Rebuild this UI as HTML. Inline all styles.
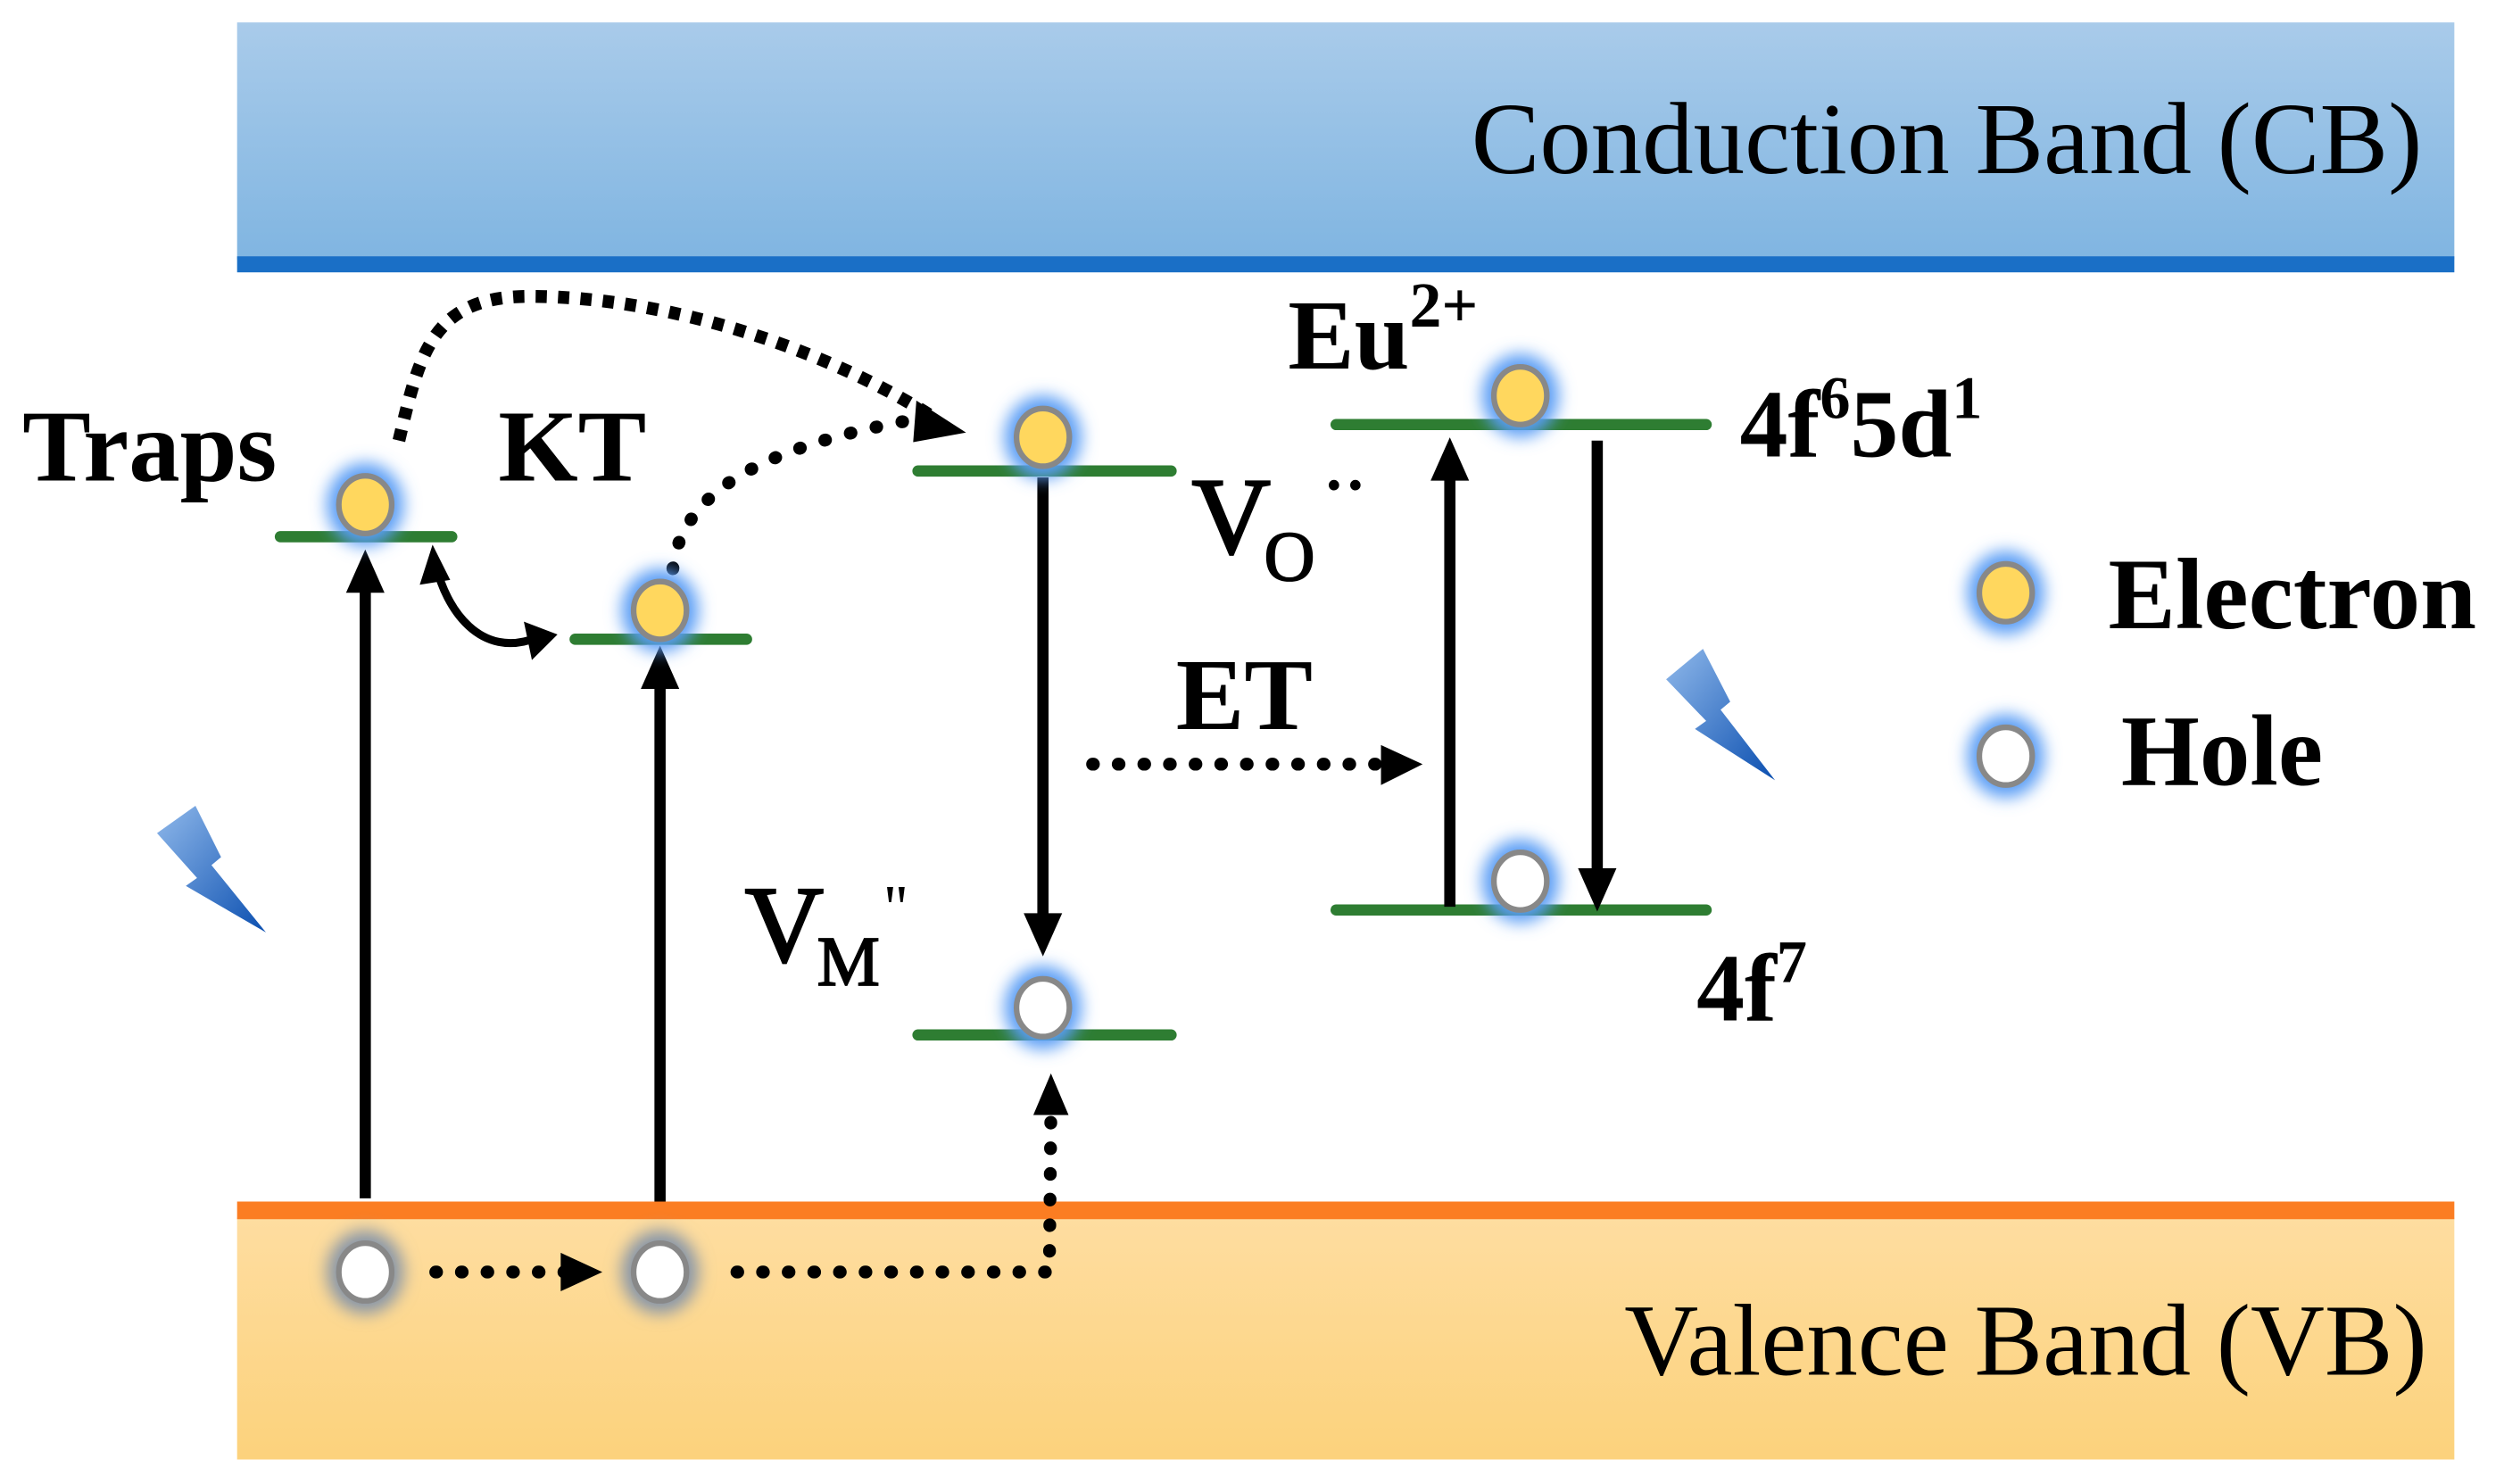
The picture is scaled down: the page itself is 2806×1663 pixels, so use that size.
<!DOCTYPE html>
<html><head><meta charset="utf-8"><style>
html,body{margin:0;padding:0;background:#fff;}
svg{display:block;}
text{font-family:"Liberation Serif",serif;}
.b{font-weight:bold;fill:#000;}
</style></head><body>
<svg width="2806" height="1663" viewBox="0 0 1563 926.3" preserveAspectRatio="none" xmlns="http://www.w3.org/2000/svg">
<defs>
<linearGradient id="cb" x1="0" y1="0" x2="0" y2="1"><stop offset="0" stop-color="#a9cbea"/><stop offset="1" stop-color="#80b5e1"/></linearGradient>
<linearGradient id="vb" x1="0" y1="0" x2="0" y2="1"><stop offset="0" stop-color="#fedda0"/><stop offset="1" stop-color="#fcd27c"/></linearGradient>
<linearGradient id="lt" x1="0" y1="0" x2="1" y2="1"><stop offset="0" stop-color="#8fb8ea"/><stop offset="1" stop-color="#0b4fb0"/></linearGradient>
<filter id="gl" x="-1" y="-1" width="3" height="3"><feGaussianBlur stdDeviation="5"/></filter>
<g id="el"><ellipse cx="0" cy="0" rx="24" ry="26" fill="#5a9df5" filter="url(#gl)"/><ellipse cx="0" cy="0" rx="16.5" ry="18" fill="#ffd75e" stroke="#888" stroke-width="3.5"/></g>
<g id="ho"><ellipse cx="0" cy="0" rx="24" ry="26" fill="#5a9df5" filter="url(#gl)"/><ellipse cx="0" cy="0" rx="16.5" ry="18" fill="#fff" stroke="#888" stroke-width="3.5"/></g>
<g id="hv"><ellipse cx="0" cy="0" rx="24" ry="26" fill="#8795a8" filter="url(#gl)"/><ellipse cx="0" cy="0" rx="16.5" ry="18" fill="#fff" stroke="#888" stroke-width="3.5"/></g>
</defs>
<rect x="148" y="14" width="1384" height="148" fill="url(#cb)"/>
<rect x="148" y="160" width="1384" height="10" fill="#1a6fc6"/>
<text x="1512" y="108" font-size="64" text-anchor="end" fill="#000">Conduction Band (CB)</text>
<rect x="148" y="760" width="1384" height="151" fill="url(#vb)"/>
<rect x="148" y="750" width="1384" height="11" fill="#fb7d22"/>
<text x="1515" y="858" font-size="64" text-anchor="end" fill="#000">Valence Band (VB)</text>

<g stroke="#2e7d32" stroke-width="7" stroke-linecap="round">
<line x1="175" y1="335" x2="282" y2="335"/>
<line x1="359" y1="399" x2="466" y2="399"/>
<line x1="573" y1="294" x2="731" y2="294"/>
<line x1="573" y1="646" x2="731" y2="646"/>
<line x1="834" y1="265" x2="1065" y2="265"/>
<line x1="834" y1="568" x2="1065" y2="568"/>
</g>

<g stroke="#000" stroke-width="7" fill="none">
<line x1="228" y1="748" x2="228" y2="365"/>
<line x1="412" y1="750" x2="412" y2="425"/>
<line x1="651" y1="298" x2="651" y2="575"/>
<line x1="905" y1="566" x2="905" y2="295"/>
<line x1="997" y1="275" x2="997" y2="545"/>
</g>
<g fill="#000">
<path d="M216,370L228,343L240,370z"/>
<path d="M400,430L412,403L424,430z"/>
<path d="M639,570L651,597L663,570z"/>
<path d="M893,300L905,273L917,300z"/>
<path d="M985,542L997,569L1009,542z"/>
</g>

<g stroke="#000" fill="none" stroke-linecap="round">
<path d="M249,275 C262,220 270,185 330,185 C420,185 520,220 585,262" stroke-width="8" stroke-dasharray="7,7" stroke-linecap="butt"/>
<path d="M420,355 C425,310 470,280 570,262" stroke-width="8" stroke-dasharray="0.5,16"/>
<path d="M682,477 L862,477" stroke-width="8" stroke-dasharray="0.5,15.5"/>
<path d="M272,794 L355,794" stroke-width="8" stroke-dasharray="0.5,15.5"/>
<path d="M460,794 L655,794 L656,690" stroke-width="8" stroke-dasharray="0.5,15.5"/>
<path d="M272,352 C278,380 300,412 335,398" stroke-width="5"/>
</g>
<g fill="#000">
<path d="M572,250L603,270L570,276z"/>
<path d="M862,465L888,477L862,490z"/>
<path d="M350,782L376,794L350,806z"/>
<path d="M645,696L656,670L667,696z"/>
<path d="M262,365L270,340L281,362z"/>
<path d="M327,388L348,396L332,412z"/>
</g>

<use href="#el" x="228" y="315"/>
<use href="#el" x="412" y="381"/>
<use href="#el" x="651" y="273"/>
<use href="#ho" x="651" y="629"/>
<use href="#el" x="949" y="247"/>
<use href="#ho" x="949" y="550"/>
<use href="#hv" x="228" y="794"/>
<use href="#hv" x="412" y="794"/>
<use href="#el" x="1252" y="370"/>
<use href="#ho" x="1252" y="472"/>

<path d="M122,503 L98,520 L123,548 L116,553 L166,582 L132,540 L138,535z" fill="url(#lt)"/>
<path d="M1063,405 L1040,424 L1065,450 L1058,455 L1108,487 L1074,443 L1080,438z" fill="url(#lt)"/>

<text class="b" x="14" y="300" font-size="64">Traps</text>
<text class="b" x="311" y="300" font-size="64">KT</text>
<text class="b" x="804" y="230" font-size="62">Eu<tspan font-size="40" dy="-26">2+</tspan></text>
<text class="b" x="1086" y="285" font-size="60">4f<tspan font-size="38" dy="-24">6</tspan><tspan dy="24">5d</tspan><tspan font-size="38" dy="-24">1</tspan></text>
<text x="744" y="345" font-size="68" fill="#000" stroke="#000" stroke-width="1.5">V</text>
<text x="789" y="362" font-size="44" fill="#000" stroke="#000" stroke-width="1">O</text>
<text x="826" y="316" font-size="40" fill="#000" font-weight="bold">··</text>
<text class="b" x="734" y="455" font-size="64">ET</text>
<text x="465" y="600" font-size="68" fill="#000" stroke="#000" stroke-width="1.5">V</text>
<text x="510" y="615" font-size="44" fill="#000" stroke="#000" stroke-width="1">M</text>
<text x="552" y="580" font-size="40" fill="#000">''</text>
<text class="b" x="1059" y="637" font-size="60">4f<tspan font-size="38" dy="-24">7</tspan></text>
<text class="b" x="1316" y="392" font-size="63">Electron</text>
<text class="b" x="1324" y="490" font-size="63">Hole</text>
</svg>
</body></html>
